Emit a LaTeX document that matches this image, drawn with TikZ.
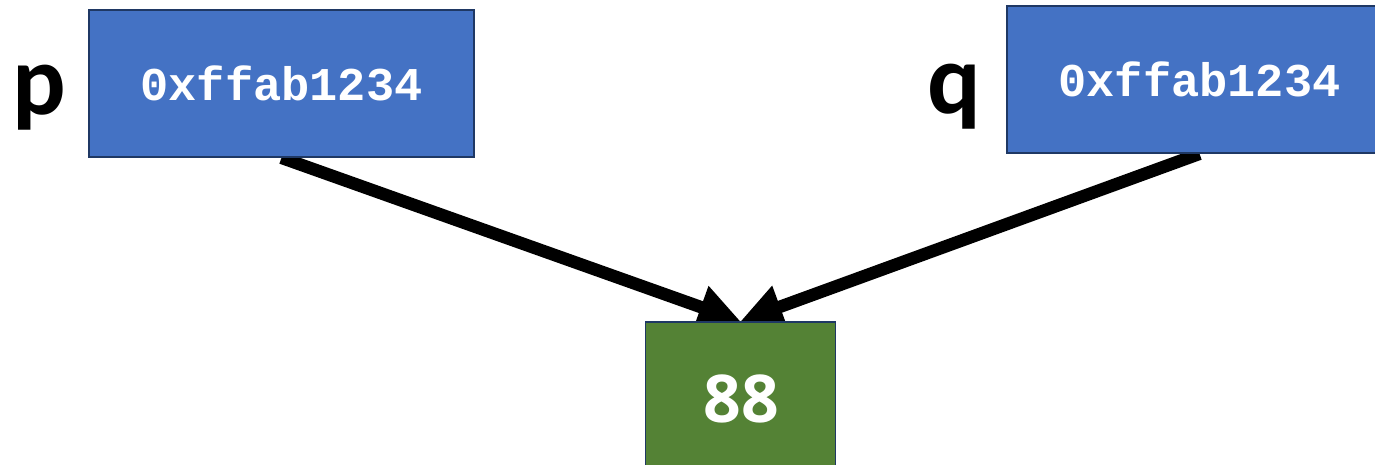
\documentclass[tikz,border=0pt]{standalone}
\usepackage{fontspec}
\newfontfamily\labfont{Carlito}
\newfontfamily\numfont{Open Sans}
\newfontfamily\monofont{Liberation Mono}
\usetikzlibrary{arrows.meta,backgrounds}
\definecolor{boxblue}{HTML}{4472C4}
\definecolor{boxgreen}{HTML}{548235}
\definecolor{boxedge}{HTML}{1F3864}
\tikzset{
  membox/.style={draw=boxedge, line width=1.6pt, inner sep=0pt, minimum width=385pt, minimum height=147pt, text=white},
  addr/.style={membox, fill=boxblue, font=\monofont\bfseries\fontsize{47}{47}\selectfont},
  valbox/.style={membox, fill=boxgreen, minimum width=190pt},
  valtext/.style={anchor=base, inner sep=0pt, text=white, font=\numfont\bfseries\fontsize{66}{66}\selectfont},
  varlab/.style={anchor=base, inner sep=0pt, font=\labfont\bfseries\fontsize{100}{100}\selectfont},
  ptr/.style={line width=12.5pt, -{Triangle[length=42pt,width=42pt]}}
}
\begin{document}
\begin{tikzpicture}[x=1pt,y=-1pt]
\useasboundingbox (0,0) rectangle (1375,465);
\clip (0,0) rectangle (1375,465);
\node[addr] (pbox) at (281.5,83.5) {0xffab1234};
\node[addr] (qbox) at (1199.5,79.5) {0xffab1234};
\node[valbox] (val) at (740.5,395.5) {};
\node[valtext] (valnum) at (741,422) {88};
\node[varlab] (plab) at (39,115) {p};
\node[varlab] (qlab) at (954,114) {q};
\begin{pgfonlayer}{background}
\draw[ptr] (pbox.south) -- (val.north);
\draw[ptr] (qbox.south) -- (val.north);
\end{pgfonlayer}
\end{tikzpicture}
\end{document}
